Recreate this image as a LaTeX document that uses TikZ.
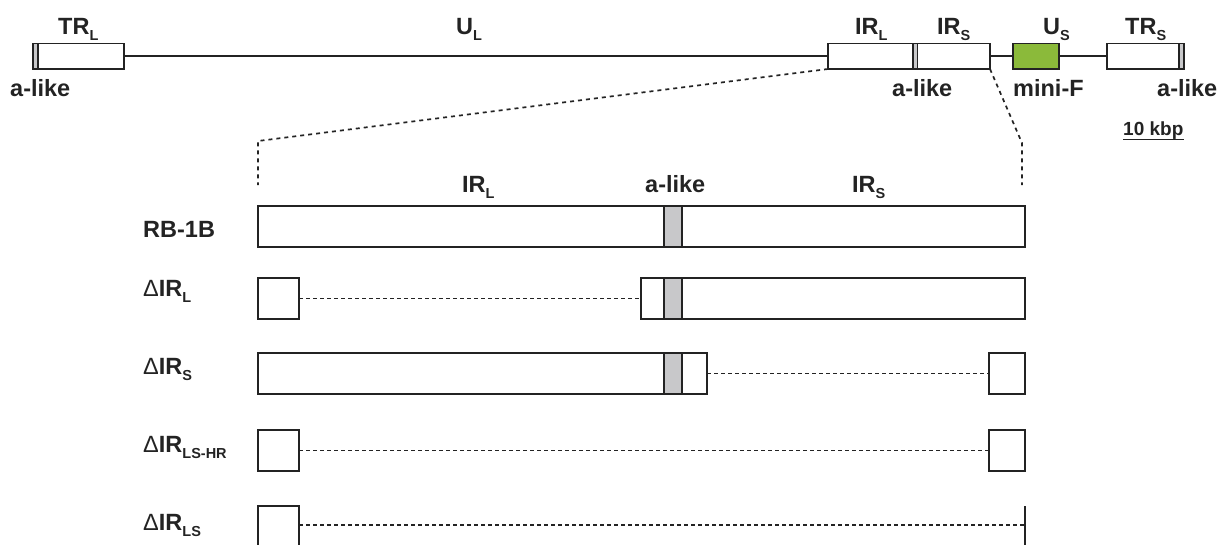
\documentclass[tikz,border=0pt]{standalone}
\usepackage{fontspec}
\setmainfont{Liberation Sans}
\definecolor{minif}{RGB}{139,186,58}
\definecolor{alikegray}{RGB}{200,200,202}
\definecolor{ink}{RGB}{35,35,35}
\newcommand\sbx[1]{\raisebox{-6pt}{\fontsize{14.5}{14.5}\selectfont #1}}
\newcommand\dlt{{\mdseries Δ}}
\newcommand\mkbox[6]{\node[bx, minimum width={(#4-#2)*1pt}, minimum height={(#5-#3)*1pt}, #6] (#1) at (#2,#3) {};}
\begin{document}
\begin{tikzpicture}[x=1pt,y=-1pt,
  bx/.style={draw=ink, line width=1.6pt, rectangle, inner sep=0pt, outer sep=0pt, anchor=north west, fill=white},
  band/.style={fill=alikegray},
  green/.style={fill=minif},
  lbl/.style={anchor=base west, inner sep=0pt, text=ink, font=\fontsize{23.5}{23.5}\selectfont\bfseries},
  kbl/.style={anchor=base west, inner sep=0pt, text=ink, font=\fontsize{19}{19}\selectfont\bfseries},
  mainline/.style={draw=ink, line width=1.8pt},
  zoomline/.style={draw=ink, line width=1.7pt, dash pattern=on 4pt off 4pt},
  gapline/.style={draw=ink, line width=1.3pt, dash pattern=on 4pt off 3pt}]
\useasboundingbox (0,0) rectangle (1226,544);
\clip (0,0) rectangle (1226,544);
% ---------- genome overview ----------
\mkbox{TRL}{33}{43.5}{124}{69}{}
\mkbox{TRLa}{33}{43.5}{38}{69}{band}
\mkbox{IRL}{828}{43.5}{913}{69}{}
\mkbox{IRLa}{913}{43.5}{917.5}{69}{band}
\mkbox{IRS}{917.5}{43.5}{990}{69}{}
\mkbox{US}{1013}{43.5}{1059}{69}{green}
\mkbox{TRS}{1107}{43.5}{1184}{69}{}
\mkbox{TRSa}{1179}{43.5}{1184}{69}{band}
\draw[mainline] (TRL.east) -- (IRL.west);
\draw[mainline] (IRS.east) -- (US.west);
\draw[mainline] (US.east) -- (TRS.west);
\node[lbl] (tTRL) at (58,34) {TR\sbx{L}};
\node[lbl] (tUL) at (456,34) {U\sbx{L}};
\node[lbl] (tIRL) at (855,34) {IR\sbx{L}};
\node[lbl] (tIRS) at (937,34) {IR\sbx{S}};
\node[lbl] (tUS) at (1043,34) {U\sbx{S}};
\node[lbl] (tTRS) at (1125,34) {TR\sbx{S}};
\node[lbl] (a1) at (10,96) {a-like};
\node[lbl] (a2) at (892,96) {a-like};
\node[lbl] (mf) at (1013,96) {mini-F};
\node[lbl] (a3) at (1157,96) {a-like};
\node[kbl] (kbp) at (1123,135) {10 kbp};
\draw[draw=ink, line width=1.9pt] ([yshift=-4.5pt]kbp.base west) -- ([yshift=-4.5pt]kbp.base east);
% ---------- zoom lines ----------
\coordinate (zl1) at (258,141);
\coordinate (zl2) at (258,185);
\coordinate (zr1) at (1022,143);
\coordinate (zr2) at (1022,185);
\draw[zoomline] (IRL.south west) -- (zl1) -- (zl2);
\draw[zoomline] (IRS.south east) -- (zr1) -- (zr2);
% ---------- detail labels ----------
\node[lbl] (dIRL) at (462,192) {IR\sbx{L}};
\node[lbl] (dal) at (645,192) {a-like};
\node[lbl] (dIRS) at (852,192) {IR\sbx{S}};
% ---------- rows ----------
\node[lbl] (r1) at (143,237) {RB-1B};
\node[lbl] (r2) at (143,296) {\dlt IR\sbx{L}};
\node[lbl] (r3) at (143,374) {\dlt IR\sbx{S}};
\node[lbl] (r4) at (143,452) {\dlt IR\sbx{LS-HR}};
\node[lbl] (r5) at (143,530) {\dlt IR\sbx{LS}};
% RB-1B
\mkbox{b1}{258}{206}{1025}{247}{}
\mkbox{b1a}{664}{206}{682}{247}{band}
% dIRL
\mkbox{b2l}{258}{278}{299}{319}{}
\mkbox{b2r}{641}{278}{1025}{319}{}
\mkbox{b2a}{664}{278}{682}{319}{band}
\draw[gapline] (b2l.east) -- (b2r.west);
% dIRS
\mkbox{b3l}{258}{353}{707}{394}{}
\mkbox{b3a}{664}{353}{682}{394}{band}
\mkbox{b3r}{989}{353}{1025}{394}{}
\draw[gapline] (b3l.east) -- (b3r.west);
% dIRLS-HR
\mkbox{b4l}{258}{430}{299}{471}{}
\mkbox{b4r}{989}{430}{1025}{471}{}
\draw[gapline] (b4l.east) -- (b4r.west);
% dIRLS
\mkbox{b5l}{258}{506}{299}{570}{}
\coordinate (b5t) at (1025,506);
\coordinate (b5b) at (1025,570);
\coordinate (b5m) at (1025,525);
\draw[draw=ink, line width=1.6pt] (b5t) -- (b5b);
\draw[gapline] (b5l.east |- b5m) -- (b5m);
\end{tikzpicture}
\end{document}
